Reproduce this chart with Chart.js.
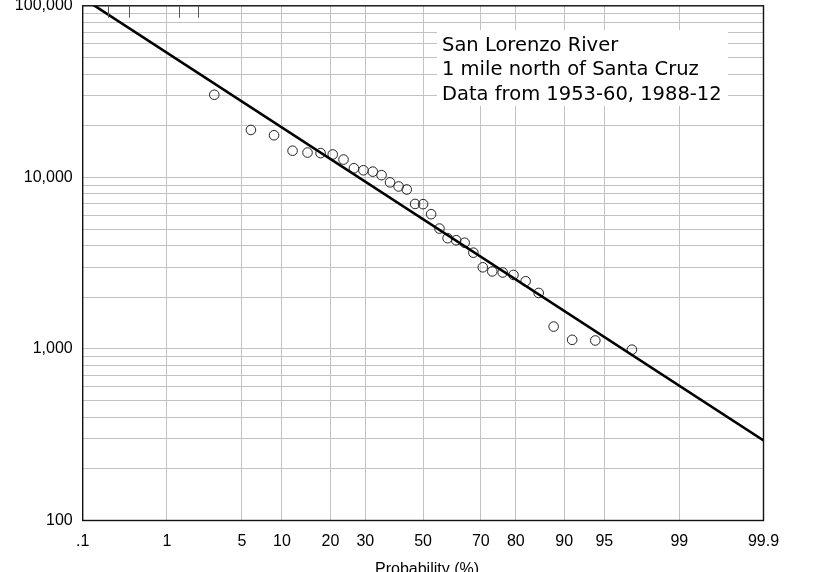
<!DOCTYPE html>
<html lang="en">
<head>
    <meta charset="UTF-8">
    <title>San Lorenzo River flood frequency</title>
    <script src="https://cdn.jsdelivr.net/npm/chart.js"></script>
    <style>
        body {
            margin: 0;
            background: white;
        }
        #wrap {
            width: 830px;
            height: 572px;
        }
    </style>
</head>
<body>
    <div id="wrap"><canvas id="flowChart" width="830" height="572"></canvas></div>

    <script>
        // plotting positions (%) and annual peak flows (cfs)
        const probability = [2.9, 5.9, 8.8, 11.8, 14.7, 17.6, 20.6, 23.5, 26.5, 29.4, 32.4,
            35.3, 38.2, 41.2, 44.1, 47.1, 50.0, 52.9, 55.9, 58.8, 61.8, 64.7,
            67.6, 70.6, 73.5, 76.5, 79.4, 82.4, 85.3, 88.2, 91.2, 94.1, 97.1];
        const peakFlow = [30300, 18900, 17600, 14300, 13950, 13850, 13600, 12700, 11300, 11000, 10800,
            10300, 9350, 8850, 8500, 7000, 6980, 6100, 5030, 4420, 4300, 4160,
            3640, 2990, 2830, 2790, 2700, 2480, 2120, 1350, 1130, 1120, 990];

        // fitted line end points
        const fitProbability = [0.1, 99.9];
        const fitFlow = [111000, 293];

        // short marks hanging from the top edge
        const topMarks = [0.21, 0.38, 1.33, 2.05];

        const xTickProbs = [0.1, 1, 5, 10, 20, 30, 50, 70, 80, 90, 95, 99, 99.9];
        const xTickLabels = ['.1', '1', '5', '10', '20', '30', '50', '70', '80', '90', '95', '99', '99.9'];
        const yTickValues = [100, 1000, 10000, 100000];
        const yTickLabels = ['100', '1,000', '10,000', '100,000'];

        const noteLines = ['San Lorenzo River', '1 mile north of Santa Cruz', 'Data from 1953-60, 1988-12'];

        // inverse of the normal distribution (Acklam)
        function probit(p) {
            const a = [-3.969683028665376e+01, 2.209460984245205e+02, -2.759285104469687e+02, 1.383577518672690e+02, -3.066479806614716e+01, 2.506628277459239e+00];
            const b = [-5.447609879822406e+01, 1.615858368580409e+02, -1.556989798598866e+02, 6.680131188771972e+01, -1.328068155288572e+01];
            const c = [-7.784894002430293e-03, -3.223964580411365e-01, -2.400758277161838e+00, -2.549732539343734e+00, 4.374664141464968e+00, 2.938163982698783e+00];
            const d = [7.784695709041462e-03, 3.224671290700398e-01, 2.445134137142996e+00, 3.754408661907416e+00];
            const pl = 0.02425;
            if (p < pl) {
                const q = Math.sqrt(-2 * Math.log(p));
                return (((((c[0] * q + c[1]) * q + c[2]) * q + c[3]) * q + c[4]) * q + c[5]) / ((((d[0] * q + d[1]) * q + d[2]) * q + d[3]) * q + 1);
            }
            if (p > 1 - pl) {
                const q = Math.sqrt(-2 * Math.log(1 - p));
                return -(((((c[0] * q + c[1]) * q + c[2]) * q + c[3]) * q + c[4]) * q + c[5]) / ((((d[0] * q + d[1]) * q + d[2]) * q + d[3]) * q + 1);
            }
            const q = p - 0.5, r = q * q;
            return (((((a[0] * r + a[1]) * r + a[2]) * r + a[3]) * r + a[4]) * r + a[5]) * q / (((((b[0] * r + b[1]) * r + b[2]) * r + b[3]) * r + b[4]) * r + 1);
        }

        // log grid: 1..9 in every decade
        let yGrid = [];
        for (let k = 2; k < 5; k++) {
            for (let m = 1; m < 10; m++) yGrid.push(m * Math.pow(10, k));
        }
        yGrid.push(100000);

        const tickFont = { family: 'Liberation Sans', size: 16 };
        const gridColor = '#c2c2c2';

        // white box with the site note, frame and top marks
        const decorations = {
            id: 'decorations',
            beforeDatasetsDraw(chart) {
                const ctx = chart.ctx;
                ctx.save();
                ctx.fillStyle = 'white';
                ctx.fillRect(437, 30, 291, 76);
                ctx.fillStyle = 'black';
                ctx.font = '19.5px "DejaVu Sans"';
                ctx.textBaseline = 'alphabetic';
                noteLines.forEach((t, i) => ctx.fillText(t, 442, 50.5 + i * 24.5));
                ctx.restore();
            },
            afterDraw(chart) {
                const ctx = chart.ctx;
                const area = chart.chartArea;
                const xs = chart.scales.x;
                ctx.save();
                ctx.strokeStyle = '#111';
                ctx.lineWidth = 1.4;
                ctx.strokeRect(area.left, area.top, area.right - area.left, area.bottom - area.top);
                ctx.lineWidth = 1;
                ctx.strokeStyle = '#555';
                topMarks.forEach(p => {
                    const px = Math.round(xs.getPixelForValue(probit(p / 100))) + 0.5;
                    ctx.beginPath();
                    ctx.moveTo(px, area.top);
                    ctx.lineTo(px, area.top + 12);
                    ctx.stroke();
                });
                ctx.fillStyle = 'black';
                ctx.font = '16px "Liberation Sans"';
                ctx.textAlign = 'center';
                ctx.fillText('Probability (%)', 427, 573.5);
                ctx.restore();
            }
        };

        new Chart(document.getElementById('flowChart'), {
            type: 'scatter',
            data: {
                datasets: [{
                    label: 'Fitted',
                    data: fitProbability.map((p, i) => ({ x: probit(p / 100), y: fitFlow[i] })),
                    showLine: true,
                    borderColor: 'black',
                    borderWidth: 2.6,
                    pointRadius: 0
                }, {
                    label: 'Peak flow',
                    data: probability.map((p, i) => ({ x: probit(p / 100), y: peakFlow[i] })),
                    pointRadius: 4.8,
                    borderWidth: 1,
                    borderColor: '#222',
                    backgroundColor: 'rgba(0,0,0,0)'
                }]
            },
            options: {
                responsive: false,
                animation: false,
                layout: { padding: { top: 4, right: 66.5, left: 0, bottom: 0 } },
                plugins: {
                    legend: { display: false },
                    tooltip: { enabled: false }
                },
                scales: {
                    x: {
                        type: 'linear',
                        min: probit(0.001),
                        max: probit(0.999),
                        afterBuildTicks: axis => {
                            axis.ticks = xTickProbs.map(p => ({ value: probit(p / 100) }));
                        },
                        afterFit: axis => {
                            axis.height = 51.5;
                            axis.paddingLeft = 0;
                            axis.paddingRight = 0;
                        },
                        border: { display: false },
                        grid: {
                            color: ctx => (ctx.index === 0 || ctx.index === xTickProbs.length - 1) ? 'rgba(0,0,0,0)' : gridColor,
                            lineWidth: 1,
                            drawTicks: false
                        },
                        ticks: {
                            autoSkip: false,
                            maxRotation: 0,
                            padding: 11,
                            color: 'black',
                            font: tickFont,
                            callback: (v, i) => xTickLabels[i]
                        }
                    },
                    y: {
                        type: 'logarithmic',
                        min: 100,
                        max: 100000,
                        afterBuildTicks: axis => {
                            axis.ticks = yGrid.map(v => ({ value: v }));
                        },
                        afterFit: axis => {
                            axis.width = 82.7;
                            axis.paddingTop = 0;
                            axis.paddingBottom = 0;
                        },
                        border: { display: false },
                        grid: {
                            color: gridColor,
                            lineWidth: 1,
                            drawTicks: false
                        },
                        ticks: {
                            autoSkip: false,
                            padding: 10,
                            color: 'black',
                            font: tickFont,
                            callback: v => {
                                const i = yTickValues.indexOf(v);
                                return i >= 0 ? yTickLabels[i] : '';
                            }
                        }
                    }
                }
            },
            plugins: [decorations]
        });
    </script>
</body>
</html>
